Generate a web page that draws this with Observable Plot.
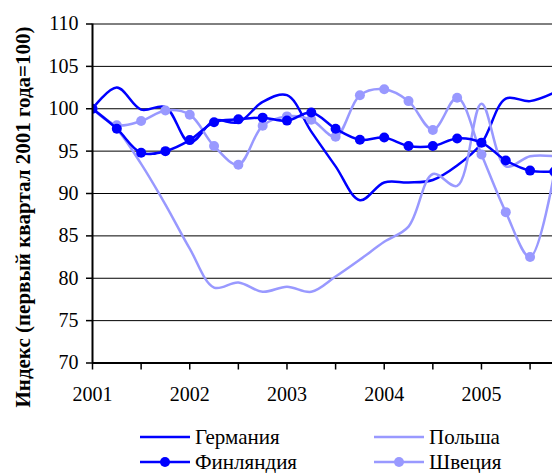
<!DOCTYPE html>
<html>
<head>
<meta charset="utf-8">
<script src="https://cdn.jsdelivr.net/npm/d3@7"></script>
<script src="https://cdn.jsdelivr.net/npm/@observablehq/plot@0.6"></script>
<style>
  html, body { margin: 0; padding: 0; background: #fff; overflow: hidden; }
  #wrap { width: 552px; height: 473px; position: relative; font-family: 'Liberation Serif', serif; }
  #legend { position: relative; width: 552px; height: 53px; font-family: 'Liberation Serif', serif; font-size: 21px; line-height: 20px; color: #000; }
  .item { position: absolute; display: flex; align-items: center; white-space: nowrap; height: 20px; }
  .item svg { display: block; margin-right: 5px; }
  #chart svg text { font-family: 'Liberation Serif', serif; }
</style>
</head>
<body>
<div id="wrap"><div id="chart"></div><div id="legend"></div></div>
<script>
// ---- data ----
const quarters = ["2001 Q1","2001 Q2","2001 Q3","2001 Q4","2002 Q1","2002 Q2","2002 Q3","2002 Q4",
                  "2003 Q1","2003 Q2","2003 Q3","2003 Q4","2004 Q1","2004 Q2","2004 Q3","2004 Q4",
                  "2005 Q1","2005 Q2","2005 Q3","2005 Q4"];
const yearLabels = ["2001","2002","2003","2004","2005"];
const seriesNames = ["Германия","Польша","Финляндия","Швеция"];
const seriesColors = ["#0000FF","#9999FF","#0000FF","#9999FF"];
const germany = [100, 102.5, 99.9, 100.2, 96.0, 98.6, 98.4, 100.8, 101.6, 97.3, 93.2, 89.2, 91.3, 91.3, 91.6, 93.3, 95.9, 101.2, 100.9, 101.9];
const poland  = [100, 97.6, 93.5, 88.7, 83.5, 78.9, 79.5, 78.4, 79.0, 78.4, 80.2, 82.2, 84.3, 86.1, 92.3, 90.9, 100.6, 93.2, 94.4, 94.4];
const finland = [100, 97.65, 94.8, 95.0, 96.3, 98.4, 98.75, 98.95, 98.6, 99.55, 97.65, 96.35, 96.6, 95.6, 95.6, 96.5, 96.0, 93.9, 92.7, 92.6];
const sweden  = [100, 98.05, 98.55, 99.8, 99.3, 95.6, 93.4, 98.0, 99.1, 98.7, 96.7, 101.6, 102.3, 100.9, 97.5, 101.3, 94.6, 87.8, 82.5, 92.5];
const yTicks = [70, 75, 80, 85, 90, 95, 100, 105, 110];
const yTitle = "Индекс (первый квартал 2001 года=100)";

// ---- build table ----
const seriesValues = [germany, poland, finland, sweden];
const withMarkers = ["Финляндия","Швеция"];
const data = seriesNames.flatMap((name, s) =>
  seriesValues[s].map((v, i) => ({series: name, quarter: quarters[i], i, v})));

const FONT = "'Liberation Serif', serif";
const W = 552, H = 420;
const mLeft = 92, mTop = 23.5, plotBottom = 362.5;
const step = 24.31; // px per quarter
const xMax = (W - mLeft) / step;

const drawOrder = ["Германия","Польша","Швеция","Финляндия"];
const marks = [
  Plot.ruleY(yTicks.filter(d => d > 70), {stroke: "#000", strokeWidth: 1}),
];
for (const name of drawOrder) {
  const rows = data.filter(d => d.series === name);
  marks.push(Plot.line(rows, {x: "i", y: "v", stroke: "series", strokeWidth: 2.5, curve: "catmull-rom", clip: true}));
  if (withMarkers.includes(name)) {
    marks.push(Plot.dot(rows, {x: "i", y: "v", fill: "series", r: 5, clip: true}));
  }
}
marks.push(
  Plot.ruleX([0], {stroke: "#000", strokeWidth: 2}),
  Plot.ruleY([70], {stroke: "#000", strokeWidth: 2}),
  Plot.axisY({ticks: yTicks, tickSize: 6, tickPadding: 8, strokeWidth: 1.5, fontSize: 20, fontFamily: FONT, label: null}),
  Plot.axisX({ticks: d3.range(0, 19, 2), tickSize: 7, tickPadding: 17, strokeWidth: 1.5, fontSize: 20, fontFamily: FONT, label: null,
              tickFormat: i => (i % 4 === 0 ? yearLabels[i / 4] : "")}),
  Plot.text([yTitle], {frameAnchor: "left", textAnchor: "middle", rotate: -90, dx: -69, dy: 23.5,
                       fontWeight: "bold", fontSize: 21, fontFamily: FONT, fill: "#000"})
);

const chart = Plot.plot({
  width: W, height: H,
  marginLeft: mLeft, marginRight: 0, marginTop: mTop, marginBottom: H - plotBottom,
  style: {fontFamily: FONT, fontSize: "20px", color: "#000", background: "#fff"},
  x: {domain: [0, xMax]},
  y: {domain: [70, 110]},
  color: {domain: seriesNames, range: seriesColors},
  marks
});
document.getElementById("chart").appendChild(chart);

// ---- legend ----
const legend = document.getElementById("legend");
const pos = [
  {left: 140, y: 17}, {left: 374, y: 17},
  {left: 140, y: 42}, {left: 374, y: 42}
];
seriesNames.forEach((name, k) => {
  const div = document.createElement("div");
  div.className = "item";
  div.style.left = pos[k].left + "px";
  div.style.top = (pos[k].y - 10) + "px";
  const marker = withMarkers.includes(name) ? `<circle cx="25" cy="6" r="5" fill="${seriesColors[k]}"/>` : "";
  div.innerHTML = `<svg width="50" height="12"><line x1="0" x2="50" y1="6" y2="6" stroke="${seriesColors[k]}" stroke-width="2.5"/>${marker}</svg><span>${name}</span>`;
  legend.appendChild(div);
});
</script>
</body>
</html>
